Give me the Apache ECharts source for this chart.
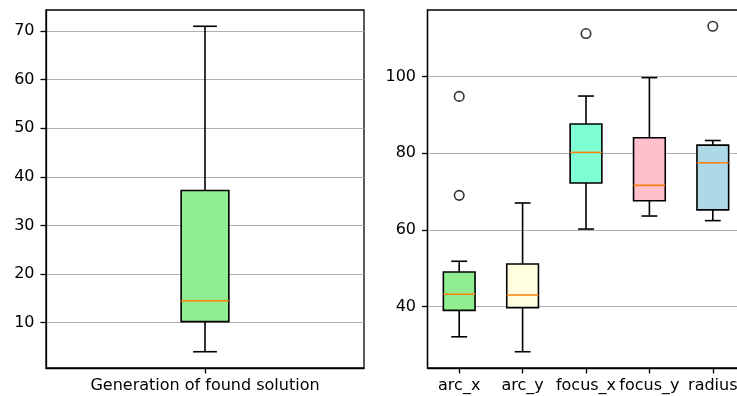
<!DOCTYPE html>
<html>
<head>
<meta charset="utf-8">
<script src="https://cdn.jsdelivr.net/npm/echarts@6/dist/echarts.min.js"></script>
<style>
  html, body { margin: 0; padding: 0; background: #fff; }
  #chart { width: 737px; height: 396px; }
</style>
</head>
<body>
<div id="chart"></div>
<script>
// Left panel: generation at which a solution was found
const genCategories = ['Generation of found solution'];
// [lower whisker, Q1, median, Q3, upper whisker]
const genStats = [[4.0, 10.2, 14.5, 37.2, 71.0]];
const genOutliers = [[]];
const genTicks = [10, 20, 30, 40, 50, 60, 70];

// Right panel: fitted parameters
const paramCategories = ['arc_x', 'arc_y', 'focus_x', 'focus_y', 'radius'];
const paramStats = [
  [32.1, 39.0, 43.2, 49.0, 51.8],
  [28.2, 39.7, 43.0, 51.1, 67.0],
  [60.2, 72.2, 80.2, 87.6, 94.9],
  [63.6, 67.6, 71.6, 84.0, 99.7],
  [62.4, 65.2, 77.5, 82.1, 83.3]
];
const paramOutliers = [[94.8, 69.0], [], [111.2], [], [113.1]];
const paramTicks = [40, 60, 80, 100];

// Box fill colours
const genColors = ['#90EE90'];
const paramColors = ['#90EE90', '#FFFFE0', '#7FFFD4', '#FFC0CB', '#ADD8E6'];

const FONT = 'DejaVu Sans';
const FONT_SIZE = 16;
const LW = 1.6;      // box, whisker and median line width
const SPINE = 1.3;   // frame and tick width

// Autoscale range with 5% padding on each side
function paddedRange(stats, outliers) {
  const all = [];
  stats.forEach(s => all.push(...s));
  outliers.forEach(o => all.push(...o));
  const lo = Math.min(...all), hi = Math.max(...all);
  const pad = (hi - lo) * 0.05;
  return [lo - pad, hi + pad];
}

function boxRenderer(widthFrac, colors) {
  return function (params, api) {
    const idx = api.value(0);
    const band = api.size([1, 0])[0];
    const half = band * widthFrac / 2;
    const capHalf = half / 2;
    const x = api.coord([idx, api.value(1)])[0];
    const yLow = api.coord([idx, api.value(1)])[1];
    const yQ1 = api.coord([idx, api.value(2)])[1];
    const yMed = api.coord([idx, api.value(3)])[1];
    const yQ3 = api.coord([idx, api.value(4)])[1];
    const yHigh = api.coord([idx, api.value(5)])[1];
    const black = { stroke: '#000', lineWidth: LW };
    return {
      type: 'group',
      children: [
        { type: 'line', shape: { x1: x, y1: yQ1, x2: x, y2: yLow }, style: black },
        { type: 'line', shape: { x1: x, y1: yQ3, x2: x, y2: yHigh }, style: black },
        { type: 'line', shape: { x1: x - capHalf, y1: yLow, x2: x + capHalf, y2: yLow }, style: black },
        { type: 'line', shape: { x1: x - capHalf, y1: yHigh, x2: x + capHalf, y2: yHigh }, style: black },
        { type: 'rect', shape: { x: x - half, y: yQ3, width: 2 * half, height: yQ1 - yQ3 },
          style: { fill: colors[params.dataIndex], stroke: '#000', lineWidth: LW } },
        { type: 'line', shape: { x1: x - half, y1: yMed, x2: x + half, y2: yMed },
          style: { stroke: '#ff7f0e', lineWidth: LW } }
      ]
    };
  };
}

function boxData(stats) {
  return stats.map((s, i) => [i, ...s]);
}
function outlierData(outliers) {
  const out = [];
  outliers.forEach((list, i) => list.forEach(v => out.push([i, v])));
  return out;
}

function xAxisCfg(gridIndex, cats) {
  return {
    type: 'category', gridIndex, data: cats, boundaryGap: true,
    axisLine: { show: true, lineStyle: { color: '#000', width: SPINE } },
    axisTick: { show: true, alignWithLabel: true, length: 5.5, lineStyle: { color: '#000', width: SPINE } },
    axisLabel: { color: '#000', fontSize: FONT_SIZE, fontFamily: FONT, margin: 10, interval: 0, hideOverlap: false },
    splitLine: { show: false }
  };
}
function yAxisCfg(gridIndex, range, ticks) {
  return {
    type: 'value', gridIndex, min: range[0], max: range[1],
    axisLine: { show: true, lineStyle: { color: '#000', width: SPINE } },
    axisTick: { show: true, length: 5.5, lineStyle: { color: '#000', width: SPINE }, customValues: ticks },
    axisLabel: { color: '#000', fontSize: FONT_SIZE, fontFamily: FONT, margin: 11.5, customValues: ticks },
    splitLine: { show: true, lineStyle: { color: '#b0b0b0', width: 1.2 }, customValues: ticks }
  };
}

const genRange = paddedRange(genStats, genOutliers);
const paramRange = paddedRange(paramStats, paramOutliers);

const chart = echarts.init(document.getElementById('chart'), null, { renderer: 'canvas' });
chart.setOption({
  animation: false,
  backgroundColor: '#fff',
  grid: [
    { left: 46, top: 10, width: 318, height: 358, outerBoundsMode: 'none',
      show: true, borderColor: '#000', borderWidth: SPINE, backgroundColor: 'transparent' },
    // the right panel extends a few pixels past the canvas edge
    { left: 427.5, top: 10, width: 317, height: 358, outerBoundsMode: 'none',
      show: true, borderColor: '#000', borderWidth: SPINE, backgroundColor: 'transparent' }
  ],
  xAxis: [xAxisCfg(0, genCategories), xAxisCfg(1, paramCategories)],
  yAxis: [yAxisCfg(0, genRange, genTicks), yAxisCfg(1, paramRange, paramTicks)],
  series: [
    {
      type: 'custom', xAxisIndex: 0, yAxisIndex: 0,
      renderItem: boxRenderer(0.15, genColors),
      encode: { x: 0, y: [1, 2, 3, 4, 5] },
      data: boxData(genStats)
    },
    {
      type: 'scatter', xAxisIndex: 0, yAxisIndex: 0,
      symbol: 'circle', symbolSize: 9.5,
      itemStyle: { color: 'rgba(0,0,0,0)', borderColor: '#000', borderWidth: LW },
      data: outlierData(genOutliers)
    },
    {
      type: 'custom', xAxisIndex: 1, yAxisIndex: 1,
      renderItem: boxRenderer(0.5, paramColors),
      encode: { x: 0, y: [1, 2, 3, 4, 5] },
      data: boxData(paramStats)
    },
    {
      type: 'scatter', xAxisIndex: 1, yAxisIndex: 1,
      symbol: 'circle', symbolSize: 9.5,
      itemStyle: { color: 'rgba(0,0,0,0)', borderColor: '#000', borderWidth: LW },
      data: outlierData(paramOutliers)
    }
  ]
});
</script>
</body>
</html>
